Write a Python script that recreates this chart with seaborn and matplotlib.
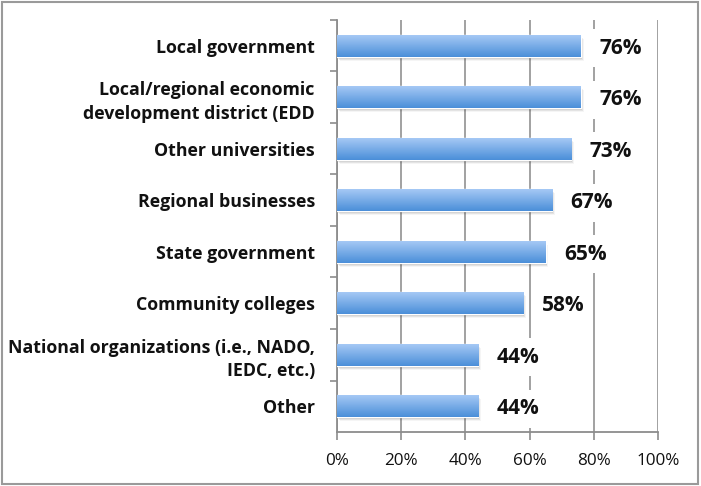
import numpy as np
import pandas as pd
import matplotlib
matplotlib.use("Agg")
import matplotlib.pyplot as plt
from matplotlib.colors import LinearSegmentedColormap
from matplotlib.patches import Rectangle
import seaborn as sns

categories = [
    "Local government",
    "Local/regional economic\ndevelopment district (EDD",
    "Other universities",
    "Regional businesses",
    "State government",
    "Community colleges",
    "National organizations (i.e., NADO,\nIEDC, etc.)",
    "Other",
]
values = [76, 76, 73, 67, 65, 58, 44, 44]
x_ticks = [0, 20, 40, 60, 80, 100]

df = pd.DataFrame({"category": categories, "pct": values})

sns.set_theme(style="white")
plt.rcParams["font.family"] = ["Open Sans", "DejaVu Sans"]

fig = plt.figure(figsize=(7.01, 4.86), dpi=100)
ax = fig.add_axes([337 / 701, 1 - 432 / 486, 321 / 701, 412 / 486])

sns.barplot(data=df, y="category", x="pct", orient="h", ax=ax,
            color="#6fa6e6", width=0.43, saturation=1, zorder=3)

ax.set_xlim(0, 100)
ax.set_ylim(len(categories) - 0.5, -0.5)
ax.set_xticks(x_ticks)
ax.set_xticklabels([f"{t}%" for t in x_ticks], fontsize=12.3, color="#111111")
ax.set_yticks(np.arange(len(categories)) - 0.5, minor=False)
ax.set_yticklabels([])
ax.set_yticks(np.arange(len(categories)), minor=True)
ax.set_yticklabels(categories, minor=True, fontsize=12.8, fontweight="bold",
                   color="#111111", ha="right", linespacing=1.4)
ax.tick_params(axis="y", which="minor", length=0, pad=16)
ax.tick_params(axis="y", which="major", length=5, width=1.2, color="#8c8c8c",
               direction="out", left=True)
ax.tick_params(axis="x", length=6, width=1.2, color="#8c8c8c",
               direction="out", bottom=True, pad=9)
ax.set_xlabel("")
ax.set_ylabel("")

ax.grid(axis="x", color="#9a9a9a", linewidth=1.3, zorder=0)
ax.set_axisbelow(True)
for side in ["top", "right"]:
    ax.spines[side].set_visible(False)
for side in ["left", "bottom"]:
    ax.spines[side].set_color("#8c8c8c")
    ax.spines[side].set_linewidth(1.3)

# gradient fill and soft shadow for each bar
cmap = LinearSegmentedColormap.from_list("barfill", ["#a9cbf6", "#4b8fd9"])
grad = np.linspace(0, 1, 64).reshape(-1, 1)
for patch in list(ax.patches):
    x0, y0 = patch.get_x(), patch.get_y()
    w, h = patch.get_width(), patch.get_height()
    for k, a in enumerate([0.10, 0.07, 0.04]):
        ax.add_patch(Rectangle((x0 + 0.3 + 0.25 * k, y0 + 0.04 + 0.02 * k), w, h,
                               facecolor="#000000", alpha=a, edgecolor="none",
                               zorder=2))
    im = ax.imshow(grad, cmap=cmap, aspect="auto",
                   extent=(x0, x0 + w, y0 + h, y0), zorder=3.5)
    im.set_clip_path(patch)
    patch.set_facecolor("none")
ax.set_xlim(0, 100)
ax.set_ylim(len(categories) - 0.5, -0.5)

for i, v in enumerate(values):
    ax.text(v + 5.8, i + 0.05, f"{v}%", va="center", ha="left", fontsize=15,
            fontweight="bold", color="#111111", zorder=5,
            bbox=dict(facecolor="white", edgecolor="none", pad=6))

fig.patches.append(Rectangle((2 / 701, 2 / 486), 696 / 701, 482 / 486,
                             transform=fig.transFigure, fill=False,
                             edgecolor="#9a9a9a", linewidth=1.5))

fig.savefig("out.png", dpi=100)
